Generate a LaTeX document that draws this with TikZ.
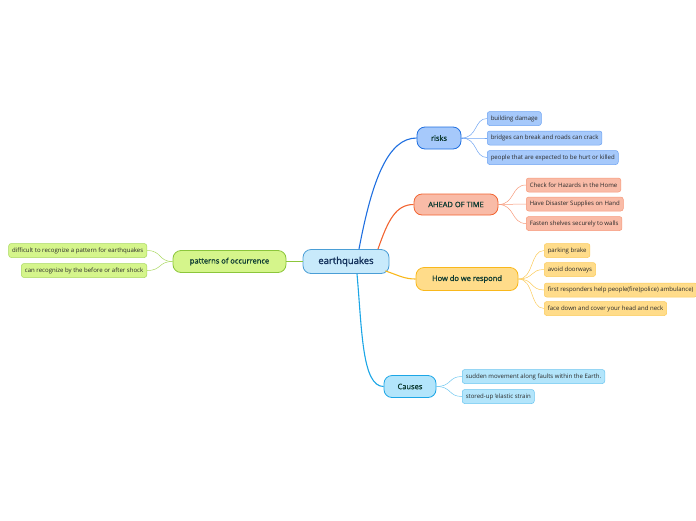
\documentclass[tikz,border=0pt]{standalone}
\usepackage{fontspec}
\setmainfont{Open Sans}
\newfontfamily\semib[FakeBold=1.3]{Open Sans}
\begin{document}
\begin{tikzpicture}[x=1pt,y=-1pt,
  central/.style={draw=cenB,fill=cenF,rounded corners=8pt,line width=0.8pt,minimum width=86pt,minimum height=24pt,font=\semib\fontsize{9.5}{11}\selectfont,text=cenT,inner sep=2pt},
  branch/.style={rounded corners=8pt,line width=0.8pt,minimum height=22pt,font=\semib\fontsize{7.5}{9}\selectfont,text=brT,inner sep=2pt},
  leaf/.style={rounded corners=2.5pt,line width=0.5pt,minimum height=14pt,font=\fontsize{6.05}{7}\selectfont,text=lfT,inner xsep=3.5pt,inner ysep=1pt,anchor=west},
  leafr/.style={rounded corners=2.5pt,line width=0.5pt,minimum height=14pt,font=\fontsize{6.05}{7}\selectfont,text=lfT,inner xsep=3.5pt,inner ysep=1pt,anchor=east},
  conn/.style={line width=1.1pt},
  lconn/.style={line width=0.5pt}
]
\definecolor{cenB}{HTML}{4A9ED6}
\definecolor{cenF}{HTML}{C8EAFB}
\definecolor{cenT}{HTML}{12305A}
\definecolor{brT}{HTML}{0E3B32}
\definecolor{lfT}{HTML}{2A2A2A}
\definecolor{rkB}{HTML}{1F6FE0}
\definecolor{rkF}{HTML}{A6C9FB}
\definecolor{rkL}{HTML}{6FA4F2}
\definecolor{ahB}{HTML}{F26431}
\definecolor{ahF}{HTML}{F9BBA7}
\definecolor{ahL}{HTML}{F7997A}
\definecolor{hdB}{HTML}{F9B81C}
\definecolor{hdF}{HTML}{FFDC8A}
\definecolor{hdL}{HTML}{FBCB5C}
\definecolor{caB}{HTML}{1CA6E6}
\definecolor{caF}{HTML}{B3E5FB}
\definecolor{caL}{HTML}{6CC6F0}
\definecolor{ptB}{HTML}{8CC63B}
\definecolor{ptF}{HTML}{D5F58B}
\definecolor{ptL}{HTML}{A9D85F}

\useasboundingbox (0,0) rectangle (696,520);

\node[central] (eq) at (346,261.5) {earthquakes};
\node[branch,draw=rkB,fill=rkF,minimum width=44pt] (risks) at (439,138) {risks};
\node[branch,draw=ahB,fill=ahF,minimum width=84pt,minimum height=21pt] (ahead) at (456,204.5) {AHEAD OF TIME};
\node[branch,draw=hdB,fill=hdF,minimum width=102pt,minimum height=23pt] (resp) at (467,279) {How do we respond};
\node[branch,draw=caB,fill=caF,minimum width=52pt] (causes) at (410,386.5) {Causes};
\node[branch,draw=ptB,fill=ptF,minimum width=113pt] (pat) at (229.5,261.5) {patterns of occurrence};

% main connectors
\coordinate (s1) at ([xshift=13pt]eq.north);
\draw[conn,rkB] (s1) .. controls (372,180) and (388,138) .. (risks.west);
\coordinate (s2) at ([xshift=32pt]eq.north);
\draw[conn,ahB] (s2) .. controls (388,220) and (396,204.5) .. (ahead.west);
\coordinate (s3) at ([xshift=-4pt,yshift=3pt]eq.south east);
\draw[conn,hdB] (s3) .. controls (400,276) and (405,279) .. (resp.west);
\coordinate (s4) at ([xshift=11pt]eq.south);
\draw[conn,caB] (s4) .. controls (362,330) and (362,386.5) .. (causes.west);
\draw[conn,ptB] (eq.west) -- (pat.east);

% risks leaves
\node[leaf,draw=rkL,fill=rkF] (r1) at (487,118.5) {building damage};
\node[leaf,draw=rkL,fill=rkF] (r2) at (487,138) {bridges can break and roads can crack};
\node[leaf,draw=rkL,fill=rkF] (r3) at (487,157.5) {people that are expected to be hurt or killed};
\foreach \n in {r1,r2,r3}{\draw[lconn,rkL] (risks.east) .. controls (478,138) and (474,0|-\n.west) .. (\n.west);}

% ahead leaves
\node[leaf,draw=ahL,fill=ahF] (a1) at (526,185) {Check for Hazards in the Home};
\node[leaf,draw=ahL,fill=ahF] (a2) at (526,204) {Have Disaster Supplies on Hand};
\node[leaf,draw=ahL,fill=ahF] (a3) at (526,223.5) {Fasten shelves securely to walls};
\foreach \n in {a1,a2,a3}{\draw[lconn,ahL] (ahead.east) .. controls (515,204.5) and (511,0|-\n.west) .. (\n.west);}

% respond leaves
\node[leaf,draw=hdL,fill=hdF] (h1) at (544,250.5) {parking brake};
\node[leaf,draw=hdL,fill=hdF] (h2) at (544,269.5) {avoid doorways};
\node[leaf,draw=hdL,fill=hdF] (h3) at (544,290) {first responders help people(fire)police) ambulance)};
\node[leaf,draw=hdL,fill=hdF] (h4) at (544,308.5) {face down and cover your head and neck};
\foreach \n in {h1,h2,h3,h4}{\draw[lconn,hdL] (resp.east) .. controls (534,279) and (530,0|-\n.west) .. (\n.west);}

% causes leaves
\node[leaf,draw=caL,fill=caF] (c1) at (462,376.5) {sudden movement along faults within the Earth.};
\node[leaf,draw=caL,fill=caF] (c2) at (462,396.5) {stored-up 'elastic strain};
\foreach \n in {c1,c2}{\draw[lconn,caL] (causes.east) .. controls (452,386.5) and (448,0|-\n.west) .. (\n.west);}

% pattern leaves
\node[leafr,draw=ptL,fill=ptF] (p1) at (147,250.5) {difficult to recognize a pattern for earthquakes};
\node[leafr,draw=ptL,fill=ptF] (p2) at (147,270.5) {can recognize by the before or after shock};
\foreach \n in {p1,p2}{\draw[lconn,ptL] (pat.west) .. controls (158,261.5) and (162,0|-\n.east) .. (\n.east);}
\end{tikzpicture}
\end{document}
